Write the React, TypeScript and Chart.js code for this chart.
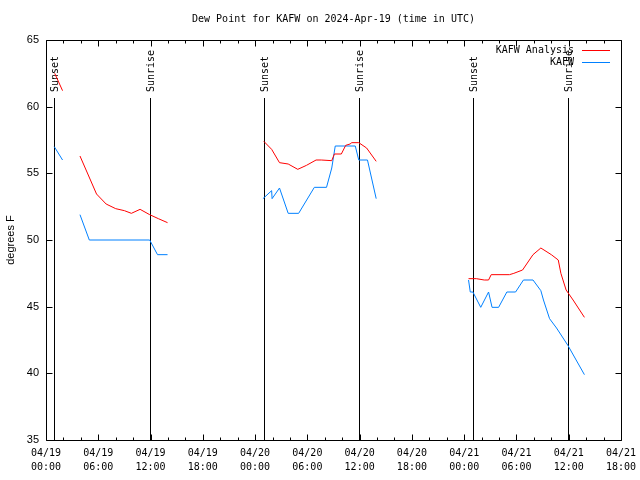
import React, { useEffect, useRef } from 'react';
import { Chart, registerables } from 'chart.js';

Chart.register(...registerables);

// ---- Data (hours since 2024-04-19 00:00 UTC) ----
const TITLE = 'Dew Point for KAFW on 2024-Apr-19 (time in UTC)';
const Y_LABEL = 'degrees F';

const X_TICK_HOURS = [0, 6, 12, 18, 24, 30, 36, 42, 48, 54, 60, 66];
const X_TICK_DATES = ['04/19', '04/19', '04/19', '04/19', '04/20', '04/20', '04/20', '04/20', '04/21', '04/21', '04/21', '04/21'];
const X_TICK_TIMES = ['00:00', '06:00', '12:00', '18:00', '00:00', '06:00', '12:00', '18:00', '00:00', '06:00', '12:00', '18:00'];

const Y_MIN = 35;
const Y_MAX = 65;
const Y_STEP = 5;

const ANALYSIS_LABEL = 'KAFW Analysis';
const analysisHours = [
  1.0, 1.9, 2.5,
  3.9, 4.9, 5.8, 6.9, 8.0, 9.0, 9.8, 10.8, 11.9, 12.9, 13.95, 14.5,
  25.0, 25.9, 26.8, 27.8, 28.9, 29.9, 31.0, 31.6, 32.8, 33.1, 33.9, 34.4, 34.9, 35.1, 35.9, 36.8, 37.9, 38.5,
  48.5, 49.4, 50.3, 50.8, 51.1, 53.2, 53.7, 54.7, 55.9, 56.8, 58.0, 58.8, 59.1, 59.7, 60.5, 61.8,
];
const analysisValues: (number | null)[] = [
  62.5, 61.2, null,
  56.3, 54.8, 53.45, 52.7, 52.35, 52.2, 52.0, 52.3, 51.9, 51.6, 51.3, null,
  57.4, 56.8, 55.8, 55.7, 55.3, 55.6, 56.0, 56.0, 55.95, 56.45, 56.45, 57.1, 57.2, 57.3, 57.3, 56.9, 55.9, null,
  47.1, 47.1, 47.0, 47.0, 47.4, 47.4, 47.5, 47.75, 48.9, 49.4, 48.9, 48.5, 47.5, 46.25, 45.5, 44.2,
];

const OBS_LABEL = 'KAFW';
const obsHours = [
  0.95, 1.9, 2.5,
  3.9, 4.97, 11.9, 12.8, 13.95, 14.5,
  24.9, 25.9, 25.95, 26.8, 27.8, 29.0, 30.8, 32.2, 32.8, 33.2, 35.5, 35.9, 36.9, 37.9, 38.5,
  48.5, 48.7, 49.0, 49.9, 50.8, 51.2, 51.95, 52.9, 53.9, 54.8, 55.9, 56.8, 57.1, 57.8, 58.6, 59.9, 61.8,
];
const obsValues: (number | null)[] = [
  57.0, 56.0, null,
  51.9, 50.0, 50.0, 48.9, 48.9, null,
  53.1, 53.7, 53.1, 53.9, 52.0, 52.0, 53.95, 53.95, 55.4, 57.05, 57.05, 56.0, 56.0, 53.1, null,
  47.0, 46.1, 46.1, 44.95, 46.1, 44.95, 44.95, 46.1, 46.1, 47.0, 47.0, 46.2, 45.5, 44.1, 43.4, 42.1, 39.9,
];

const sunHours = [0.95, 11.97, 25.02, 35.96, 49.05, 59.95];
const sunLabels = ['Sunset', 'Sunrise', 'Sunset', 'Sunrise', 'Sunset', 'Sunrise'];

const MONO = '"DejaVu Sans Mono", monospace';
const SANS = '"Liberation Sans", Arial, sans-serif';

function toPoints(xs: number[], ys: (number | null)[]) {
  return xs.map((x, i) => ({ x, y: ys[i] }));
}

const framePlugin = {
  id: 'gnuFrame',
  beforeDatasetsDraw(chart: any) {
    const { ctx, chartArea, scales } = chart;
    const xs = scales.x;
    const { top, bottom } = chartArea;
    ctx.save();
    ctx.strokeStyle = '#000';
    ctx.lineWidth = 1;
    ctx.fillStyle = '#000';
    ctx.font = `10px ${MONO}`;
    sunHours.forEach((h, i) => {
      const px = Math.round(xs.getPixelForValue(h)) + 0.5;
      ctx.beginPath();
      ctx.moveTo(px, top + 58);
      ctx.lineTo(px, bottom);
      ctx.stroke();
      ctx.save();
      ctx.translate(px + 1, top + 52);
      ctx.rotate(-Math.PI / 2);
      ctx.textAlign = 'left';
      ctx.textBaseline = 'middle';
      ctx.fillText(sunLabels[i], 0, 0);
      ctx.restore();
    });
    ctx.restore();
  },
  afterDatasetsDraw(chart: any) {
    const { ctx, chartArea, scales } = chart;
    const xs = scales.x;
    const ys = scales.y;
    const { left, right, top, bottom } = chartArea;
    ctx.save();
    ctx.strokeStyle = '#000';
    ctx.lineWidth = 1;
    const L = Math.round(left) + 0.5;
    const R = Math.round(right) + 0.5;
    const T = Math.round(top) + 0.5;
    const B = Math.round(bottom) + 0.5;
    ctx.beginPath();
    ctx.rect(L, T, R - L, B - T);
    ctx.stroke();
    ctx.beginPath();
    for (let h = 0; h <= 66; h += 2) {
      const px = Math.round(xs.getPixelForValue(h)) + 0.5;
      const len = h % 6 === 0 ? 6 : 3;
      ctx.moveTo(px, B);
      ctx.lineTo(px, B - len);
      ctx.moveTo(px, T);
      ctx.lineTo(px, T + len);
    }
    for (let v = Y_MIN; v <= Y_MAX; v += Y_STEP) {
      const py = Math.round(ys.getPixelForValue(v)) + 0.5;
      ctx.moveTo(L, py);
      ctx.lineTo(L + 6, py);
      ctx.moveTo(R, py);
      ctx.lineTo(R - 6, py);
    }
    ctx.stroke();

    // Legend
    ctx.font = `10px ${MONO}`;
    ctx.fillStyle = '#000';
    ctx.textAlign = 'right';
    ctx.textBaseline = 'middle';
    const rows = [50, 62];
    chart.data.datasets.forEach((ds: any, i: number) => {
      const y = rows[i];
      ctx.fillText(ds.label, 574, y);
      ctx.strokeStyle = ds.borderColor;
      ctx.beginPath();
      ctx.moveTo(582, y + 0.5);
      ctx.lineTo(610, y + 0.5);
      ctx.stroke();
    });
    ctx.restore();
  },
};

export default function App() {
  const ref = useRef<HTMLCanvasElement | null>(null);

  useEffect(() => {
    if (!ref.current) return;
    const chart = new Chart(ref.current, {
      type: 'line',
      data: {
        datasets: [
          {
            label: ANALYSIS_LABEL,
            data: toPoints(analysisHours, analysisValues),
            borderColor: '#ff0000',
            borderWidth: 1,
            pointRadius: 0,
            fill: false,
            spanGaps: false,
            tension: 0,
          },
          {
            label: OBS_LABEL,
            data: toPoints(obsHours, obsValues),
            borderColor: '#0080ff',
            borderWidth: 1,
            pointRadius: 0,
            fill: false,
            spanGaps: false,
            tension: 0,
          },
        ],
      },
      options: {
        animation: false,
        responsive: false,
        maintainAspectRatio: false,
        layout: { padding: { left: 0, right: 19, top: 0, bottom: 0 } },
        plugins: {
          legend: { display: false },
          tooltip: { enabled: false },
          title: {
            display: true,
            text: TITLE,
            fullSize: false,
            color: '#000',
            font: { family: MONO, size: 10, weight: 'normal' },
            padding: { top: 13, bottom: 15 },
          },
        },
        scales: {
          x: {
            type: 'linear',
            min: 0,
            max: 66,
            afterBuildTicks: (scale: any) => {
              scale.ticks = X_TICK_HOURS.map((v) => ({ value: v }));
            },
            afterFit: (scale: any) => {
              scale.height = 40;
              scale.paddingLeft = 0;
              scale.paddingRight = 0;
            },
            ticks: {
              autoSkip: false,
              maxRotation: 0,
              minRotation: 0,
              padding: 6,
              color: '#000',
              font: { family: MONO, size: 10, lineHeight: 1.4 },
              callback: (v: any) => {
                const i = X_TICK_HOURS.indexOf(Number(v));
                return i >= 0 ? [X_TICK_DATES[i], X_TICK_TIMES[i]] : '';
              },
            },
            grid: { display: false, drawTicks: false },
            border: { display: false },
          },
          y: {
            type: 'linear',
            min: Y_MIN,
            max: Y_MAX,
            afterFit: (scale: any) => {
              scale.width = 46;
              scale.paddingTop = 0;
              scale.paddingBottom = 0;
            },
            ticks: {
              stepSize: Y_STEP,
              padding: 7,
              color: '#000',
              font: { family: SANS, size: 11 },
            },
            grid: { display: false, drawTicks: false },
            border: { display: false },
            title: {
              display: true,
              text: Y_LABEL,
              color: '#000',
              font: { family: SANS, size: 11 },
              padding: { top: 4, bottom: 0 },
            },
          },
        },
      },
      plugins: [framePlugin],
    } as any);
    return () => chart.destroy();
  }, []);

  return (
    <div style={{ position: 'fixed', left: 0, top: 0, width: 640, height: 480, background: '#fff' }}>
      <canvas ref={ref} width={640} height={480} style={{ display: 'block', width: 640, height: 480 }} />
    </div>
  );
}
